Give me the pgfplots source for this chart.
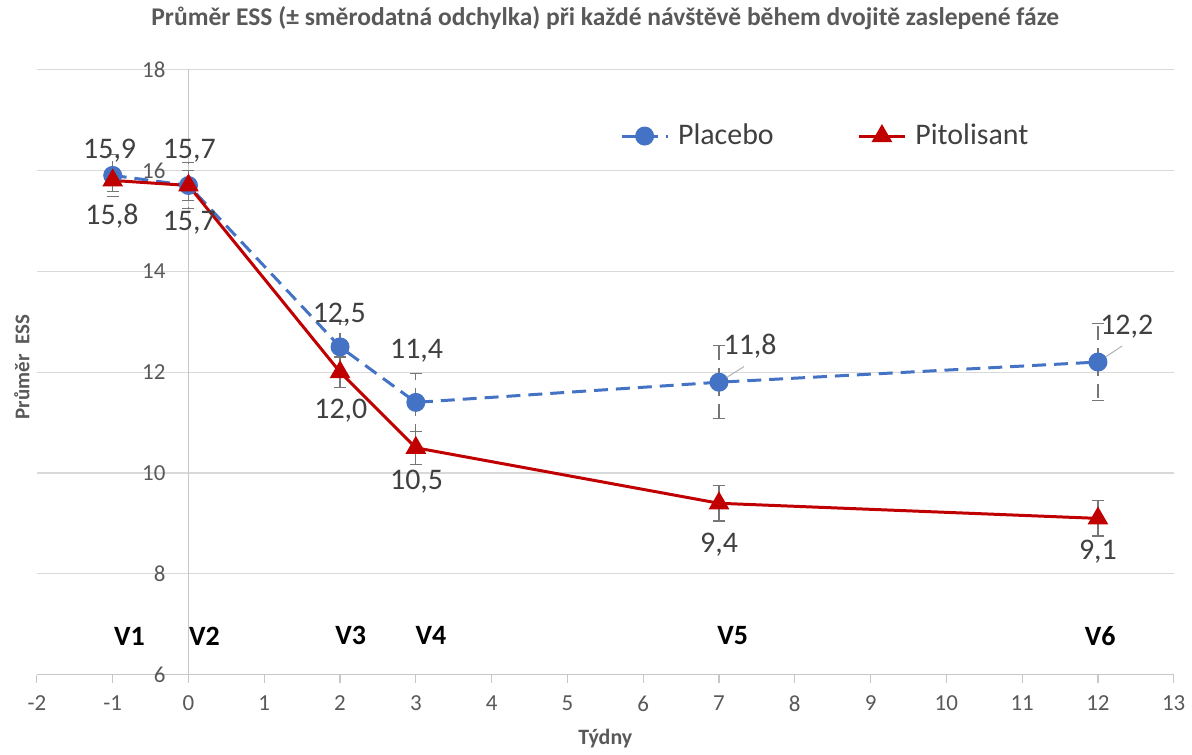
\documentclass[border=0pt]{standalone}
\usepackage{pgfplots}
\pgfplotsset{compat=1.18}
\usepackage{fontspec}
\setmainfont{Carlito}
\definecolor{cblue}{HTML}{4472C4}
\definecolor{cred}{HTML}{C00000}
\definecolor{cgrid}{HTML}{D9D9D9}
\definecolor{ctext}{HTML}{595959}
\definecolor{clab}{HTML}{404040}
\definecolor{cerr}{HTML}{767676}
\begin{document}
\begin{tikzpicture}
\begin{axis}[
  scale only axis,
  width=570pt, height=303.5pt,
  xmin=-2, xmax=13, ymin=6, ymax=18,
  axis x line=bottom, axis y line=middle,
  hide obscured x ticks=false, hide obscured y ticks=false,
  axis line style={-, draw=cgrid!80!gray, line width=0.6pt},
  xtick={-2,...,13}, ytick={6,8,...,18},
  ymajorgrids, major grid style={cgrid, line width=0.6pt},
  x tick style={cgrid!80!gray, line width=0.6pt},
  xtick align=outside, major tick length=4pt,
  y tick style={draw=none},
  /pgf/number format/assume math mode=true,
  ticklabel style={font=\fontsize{11.5}{14}\selectfont, text=ctext},
  yticklabel style={xshift=-6pt},
  xticklabel style={yshift=-3pt},
  title={\bfseries Průměr ESS (± směrodatná odchylka) při každé návštěvě během dvojitě zaslepené fáze},
  title style={font=\fontsize{12.8}{15}\selectfont, text=ctext, at={(rel axis cs:0.5,1)}, anchor=base, yshift=16pt},
  xlabel={\bfseries Týdny},
  xlabel style={font=\fontsize{11}{13}\selectfont, text=ctext, at={(rel axis cs:0.5,0)}, anchor=base, yshift=-35pt},
  ylabel={\bfseries Průměr\ \ ESS},
  ylabel style={font=\fontsize{10.5}{12}\selectfont, text=ctext, at={(rel axis cs:0,0.5)}, rotate=90, anchor=center, xshift=2.5pt, yshift=7.5pt},
  clip=false,
  legend style={draw=none, fill=none, font=\fontsize{15}{18}\selectfont, text=clab,
    at={(axis cs:5.665,16.68)}, anchor=west, inner sep=1pt,
    /tikz/every even column/.append style={column sep=40pt}},
  legend columns=2,
  legend image code/.code={\draw[mark repeat=2,mark phase=2] plot coordinates {(0pt,0pt) (11.5pt,0pt) (23pt,0pt)}; \path (25.5pt,0pt);},
  error bars/error bar style={cerr, line width=0.6pt},
  error bars/error mark options={rotate=90, mark size=3pt, cerr, line width=0.6pt},
]
\addplot[cblue, line width=1.5pt, dash pattern=on 7pt off 4pt, mark=*, mark size=4pt,
  mark options={solid, fill=cblue, draw=cblue},
  error bars/.cd, y dir=both, y explicit]
coordinates {
(-1,15.9) +- (0,0.42)
(0,15.7) +- (0,0.45)
(2,12.5) +- (0,0.5)
(3,11.4) +- (0,0.57)
(7,11.8) +- (0,0.72)
(12,12.2) +- (0,0.77)
};
\addlegendentry{Placebo}
\addplot[cred, line width=1.5pt, mark=triangle*, mark size=4.5pt,
  mark options={solid, fill=cred, draw=cred},
  error bars/.cd, y dir=both, y explicit]
coordinates {
(-1,15.8) +- (0,0.22)
(0,15.7) +- (0,0.3)
(2,12.0) +- (0,0.3)
(3,10.5) +- (0,0.33)
(7,9.4) +- (0,0.35)
(12,9.1) +- (0,0.35)
};
\addlegendentry{Pitolisant}
% leader lines
\draw[gray!60, line width=0.5pt] (axis cs:7,11.8) -- (axis cs:7.33,12.11);
\draw[gray!60, line width=0.5pt] (axis cs:12,12.2) -- (axis cs:12.32,12.52);
% data labels
\begin{scope}[every node/.style={font=\fontsize{15}{18}\selectfont, text=clab, inner sep=0pt}]
\node at (axis cs:-1.04,16.38) {15,9};
\node at (axis cs:0.01,16.38) {15,7};
\node at (axis cs:1.99,13.14) {12,5};
\node at (axis cs:3.01,12.43) {11,4};
\node at (axis cs:7.41,12.51) {11,8};
\node at (axis cs:12.38,12.90) {12,2};
\node at (axis cs:-1.01,15.09) {15,8};
\node at (axis cs:0.01,14.96) {15,7};
\node at (axis cs:2.01,11.24) {12,0};
\node at (axis cs:3.01,9.82) {10,5};
\node at (axis cs:7.0,8.57) {9,4};
\node at (axis cs:12.0,8.43) {9,1};
\end{scope}
\begin{scope}[every node/.style={font=\bfseries\fontsize{14}{17}\selectfont, text=black, inner sep=0pt}]
\node at (axis cs:-0.78,6.77) {V1};
\node at (axis cs:0.21,6.77) {V2};
\node at (axis cs:2.14,6.77) {V3};
\node at (axis cs:3.2,6.77) {V4};
\node at (axis cs:7.18,6.77) {V5};
\node at (axis cs:12.03,6.77) {V6};
\end{scope}
\coordinate (bl) at (rel axis cs:0,0);
\coordinate (tr) at (rel axis cs:1,1);
\end{axis}
\path ([shift={(-18.5pt,-37pt)}]bl) rectangle ([shift={(7.5pt,34pt)}]tr);
\end{tikzpicture}
\end{document}
